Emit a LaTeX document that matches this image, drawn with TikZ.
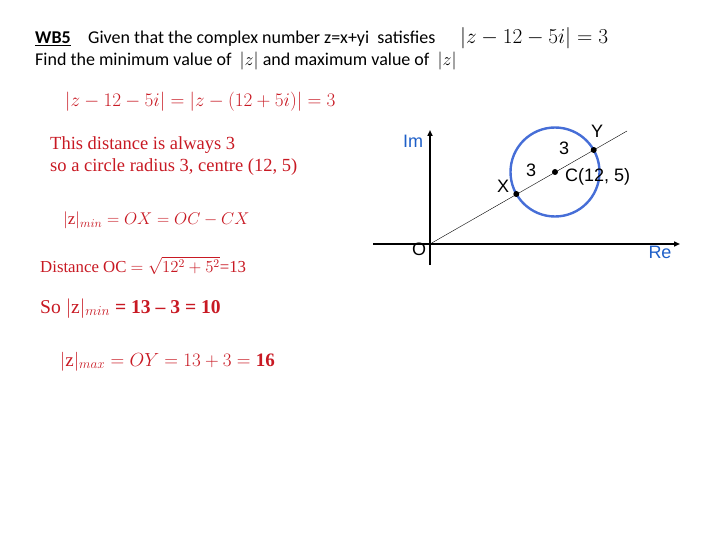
\RequirePackage{fix-cm}
\documentclass[tikz,border=0pt]{standalone}
\usepackage{fontspec}
\setmainfont{Carlito}
\newfontfamily\cambria{Liberation Serif}
\newfontfamily\arial{Liberation Sans}
\usetikzlibrary{arrows.meta,positioning}
\definecolor{wbred}{RGB}{200,25,35}
\definecolor{wbblue}{RGB}{30,95,200}
\definecolor{ringblue}{RGB}{70,110,215}
\def\rad{44.5}
\def\zz{\mbox{\cambria z}}
\def\fs#1{\fontsize{#1}{#1}\selectfont}
\tikzstyle{axis}=[line width=1.5pt,-{Triangle[length=6pt,width=5pt]}]
\tikzstyle{dot}=[circle,fill=black,inner sep=0pt,minimum size=6pt]
\tikzstyle{lbl}=[font=\arial\fs{18},inner sep=0pt]
\tikzstyle{head}=[anchor=base west,inner sep=0pt,font=\fs{18}]
\tikzstyle{work}=[anchor=base west,inner sep=0pt,text=wbred,font=\cambria\fs{18.5}]

\begin{document}
\begin{tikzpicture}[x=1pt,y=-1pt]
			\useasboundingbox (0,0) rectangle (720,540);
			% question
			\node[head](wb) at (35,44){\underline{\textbf{WB5}}};
			\node[head](given) at (88,44){Given that the complex number z=x+yi\ \ satisfies};
			\node[head,font=\fs{21.3}](eq) at (460,44){$|z-12-5i|=3$};
			\node[head](find) at (35,66){Find the minimum value of\ \ $|z|$ and maximum value of\ \ $|z|$};
			% working
			\node[work,font=\cambria\fs{19.2}](w1) at (65,107){$|z-12-5i|=|z-(12+5i)|=3$};
			\node[work](w2) at (50,150){This distance is always 3};
			\node[work](w3) at (50,172){so a circle radius 3, centre (12, 5)};
			\node[work,font=\cambria\fs{17}](w4) at (63,225){$|\zz|_{min}=OX=OC-CX$};
			\node[work,font=\cambria\fs{16.8}](w5) at (40,272){Distance OC $=\sqrt{12^2+5^2}$=13};
			\node[work,font=\cambria\fs{19.6}](w6) at (40,313){So $|\zz|_{min}$ \textbf{= 13 – 3 = 10}};
			\node[work,font=\cambria\fs{19}](w7) at (60,366){$|\zz|_{max}=OY=13+3=\mbox{\bfseries 16}$};
			% argand diagram
			\coordinate(O) at (430,244);
			\coordinate(C) at (555,172);
			\coordinate(X) at (516.3,194);
			\coordinate(Y) at (593.7,150);
			\coordinate(tip) at (627,131);
			\coordinate(reL) at (373,244);
			\coordinate(reR) at (680,244);
			\coordinate(imB) at (430,265);
			\coordinate(imT) at (430,130);
			\draw[axis](reL)--(reR);
			\draw[axis](imB)--(imT);
			\draw[ringblue,line width=2.4pt](C) circle (\rad);
			\draw[thin](O)--(tip);
			\node[dot](Xd) at (X){};
			\node[dot](Cd) at (C){};
			\node[dot](Yd) at (Y){};
			\node[lbl](Ol) at (419,249){O};
			\node[lbl,text=wbblue](Im) at (413,141){Im};
			\node[lbl,text=wbblue](Re) at (660,252){Re};
			\node[lbl](Xl) at (503,186){X};
			\node[lbl](Yl) at (597,131){Y};
			\node[lbl,anchor=west](Cl) at (565,177){C(12, 5)};
			\node[lbl](r1) at (531,170){3};
			\node[lbl](r2) at (564,148){3};
		\end{tikzpicture}
\end{document}
